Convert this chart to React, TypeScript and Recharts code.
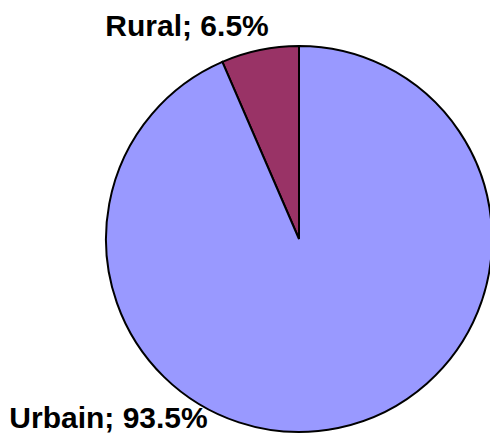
import { PieChart, Pie, Cell } from "recharts";

const names = ["Rural", "Urbain"];
const shares = [6.5, 93.5];
const colors = ["#993366", "#9999FF"];

// label anchor (text centre / baseline) relative to the pie centre, in radius units
const labelOffsets: { [key: string]: [number, number] } = {
  Rural: [-0.58, -1.052],
  Urbain: [-0.987, 0.979],
};

const data = names.map((name, i) => ({ name, value: shares[i] }));

function renderLabel(props: any) {
  const { cx, cy, outerRadius, name, percent } = props;
  const [fx, fy] = labelOffsets[name] || [0, 0];
  return (
    <text
      x={cx + fx * outerRadius}
      y={cy + fy * outerRadius}
      textAnchor="middle"
      fill="#000"
      fontFamily="'Liberation Sans', Arial, sans-serif"
      fontWeight="bold"
      fontSize={30}
    >
      {`${name}; ${(percent * 100).toFixed(1)}%`}
    </text>
  );
}

export default function App() {
  return (
    <div style={{ position: "absolute", left: 0, top: 0, background: "#fff" }}>
      <PieChart width={490} height={434} margin={{ top: 0, right: 0, bottom: 0, left: 0 }}>
        <Pie
          data={data}
          dataKey="value"
          nameKey="name"
          cx={299}
          cy={239}
          outerRadius={193}
          startAngle={90}
          endAngle={450}
          stroke="#000"
          strokeWidth={2}
          label={renderLabel}
          labelLine={false}
          isAnimationActive={false}
        >
          {data.map((d, i) => (
            <Cell key={d.name} fill={colors[i]} />
          ))}
        </Pie>
      </PieChart>
    </div>
  );
}
